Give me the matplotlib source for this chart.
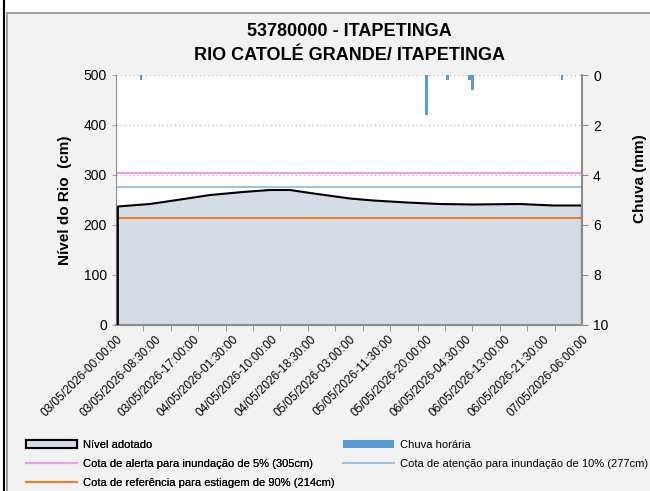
import numpy as np
import matplotlib.pyplot as plt
from matplotlib.patches import Rectangle, Patch
from matplotlib.lines import Line2D

plt.rcParams['font.family'] = ['Liberation Sans', 'DejaVu Sans']

# hours since 03/05/2026 00:00
level_hours = [0.4, 7.4, 13.4, 20.6, 27.8, 33.7, 38.1, 42.5, 51.2, 56.3, 63.7, 70.9, 78.1, 88.4, 95.7, 102]
level_cm = [237, 242, 250, 260, 266, 270, 270, 264, 253, 249, 245, 242, 241, 242, 239, 239]

rain_hours = [5.5, 68, 72.6, 77.3, 78, 97.6]
rain_mm = [0.2, 1.6, 0.2, 0.2, 0.6, 0.2]

tick_labels = ['03/05/2026-00:00:00', '03/05/2026-08:30:00', '03/05/2026-17:00:00',
               '04/05/2026-01:30:00', '04/05/2026-10:00:00', '04/05/2026-18:30:00',
               '05/05/2026-03:00:00', '05/05/2026-11:30:00', '05/05/2026-20:00:00',
               '06/05/2026-04:30:00', '06/05/2026-13:00:00', '06/05/2026-21:30:00',
               '07/05/2026-06:00:00']

alerta, atencao, referencia = 305, 277, 214

fig = plt.figure(figsize=(6.5, 4.91), dpi=100)
fig.patch.set_facecolor('white')
# outer frames
fig.add_artist(Rectangle((7/650, -0.01), 1.0, 1 - 13/491 + 0.01, transform=fig.transFigure,
                         facecolor='#f2f2f2', edgecolor='#8c8c8c', lw=1.2, zorder=-5))
fig.add_artist(Line2D([4/650, 4/650], [0, 1], transform=fig.transFigure, color='black', lw=1.5))

ax = fig.add_axes([116/650, 1 - 325/491, 466/650, 250/491])
ax.set_facecolor('white')
ax.fill_between(level_hours, level_cm, 0, facecolor='#d6dce5', edgecolor='none', zorder=1)
lx = [level_hours[0]] + level_hours + [level_hours[-1]]
ly = [0] + level_cm + [0]
ax.plot(lx, ly, color='black', lw=1.5, zorder=3)
ax.axhline(alerta, color='#f09ee8', lw=1.5, zorder=2)
ax.axhline(atencao, color='#9dc3e6', lw=1.5, zorder=2)
ax.axhline(referencia, color='#ed7d31', lw=1.5, zorder=2)

ax.set_xlim(0, 102)
ax.set_ylim(0, 500)
ax.set_yticks(range(0, 501, 100))
ax.yaxis.grid(True, color='#bfbfbf', linestyle=(0, (1, 2)), lw=1)
ax.set_axisbelow(True)
ax.tick_params(axis='y', labelsize=10, length=3, color='#a6a6a6')
ax.set_ylabel('Nível do Rio  (cm)', fontsize=11, fontweight='bold')
ax.yaxis.set_label_coords(-0.094, 0.5)

ax.set_xticks(np.arange(0, 102.1, 8.5))
ax.set_xticklabels(tick_labels, rotation=45, ha='right', rotation_mode='anchor', fontsize=8.5)
ax.set_xticks(np.arange(0, 102.1, 6), minor=True)
ax.tick_params(axis='x', which='major', length=0, pad=6)
ax.tick_params(axis='x', which='minor', length=4.5, color='#8c8c8c')
ax.spines['left'].set_linestyle((0, (1, 1)))
ax.spines['left'].set_color('#8c8c8c')
ax.spines['bottom'].set_color('#8c8c8c')
ax.spines['bottom'].set_linewidth(1.5)
ax.spines['top'].set_visible(False)
ax.spines['right'].set_visible(False)

fig.text(349/650, 1 - 31/491, '53780000 - ITAPETINGA', fontsize=13, fontweight='bold',
         ha='center', va='center')
fig.text(349/650, 1 - 55/491, 'RIO CATOLÉ GRANDE/ ITAPETINGA', fontsize=13, fontweight='bold',
         ha='center', va='center')

ax2 = ax.twinx()
ax2.bar(rain_hours, rain_mm, width=0.6, color='#5b9bd5', zorder=4)
ax2.set_ylim(10, 0)
ax2.set_yticks(range(0, 11, 2))
ax2.tick_params(axis='y', labelsize=10, length=4.5, color='#8c8c8c')
ax2.set_ylabel('Chuva (mm)', fontsize=11, fontweight='bold')
ax2.yaxis.set_label_coords(1.109, 0.584)
for s in ['top', 'left', 'bottom']:
    ax2.spines[s].set_visible(False)
ax2.spines['right'].set_color('#8c8c8c')
ax2.spines['right'].set_linewidth(1.5)

col1 = [
    Patch(facecolor='#d6dce5', edgecolor='black', lw=1.5, label='Nível adotado'),
    Line2D([], [], color='#f09ee8', lw=1.5, label='Cota de alerta para inundação de 5% (305cm)'),
    Line2D([], [], color='#ed7d31', lw=1.5, label='Cota de referência para estiagem de 90% (214cm)'),
]
col2 = [
    Patch(facecolor='#5b9bd5', edgecolor='none', label='Chuva horária'),
    Line2D([], [], color='#9dc3e6', lw=1.5, label='Cota de atenção para inundação de 10% (277cm)'),
]
leg_kw = dict(loc='upper left', frameon=False, fontsize=8, handlelength=4.6, handleheight=0.75,
              labelspacing=0.8, handletextpad=0.5, borderpad=0, borderaxespad=0)
leg1 = fig.legend(handles=col1, bbox_to_anchor=(26/650, 1 - 440/491), **leg_kw)
fig.add_artist(leg1)
fig.legend(handles=col2, bbox_to_anchor=(343/650, 1 - 440/491), **leg_kw)

plt.savefig('out.png', dpi=100)
